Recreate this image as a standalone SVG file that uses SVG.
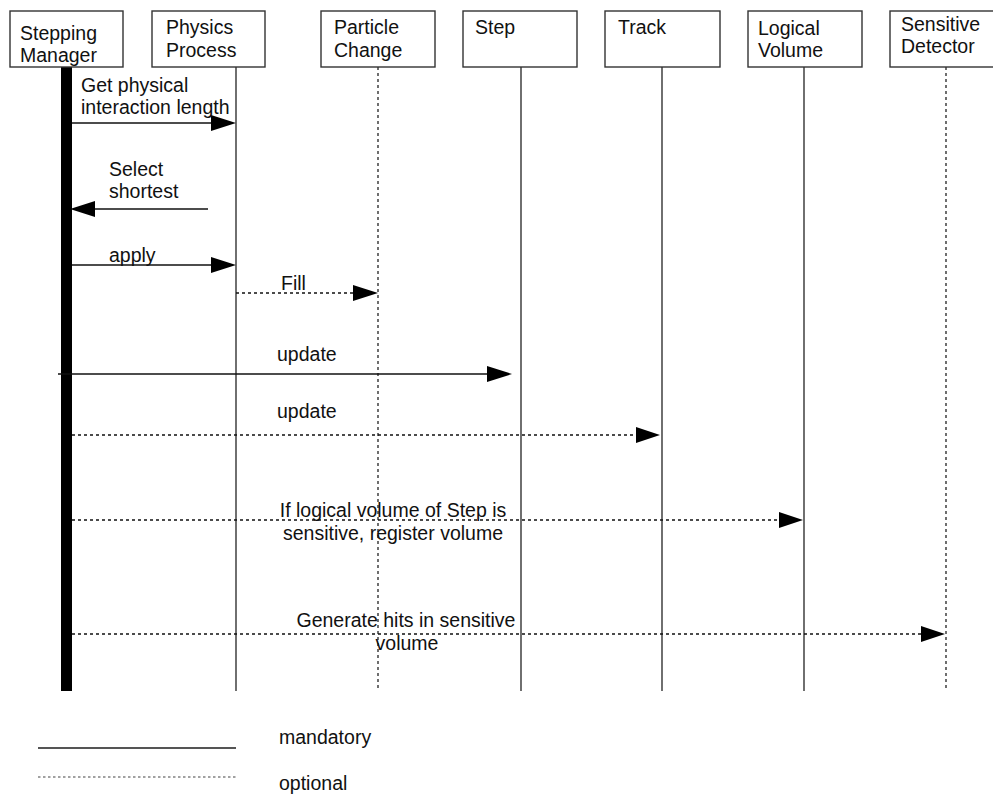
<svg xmlns="http://www.w3.org/2000/svg" width="993" height="794" viewBox="0 0 993 794">
<style>
text{font-family:"Liberation Sans",Arial,sans-serif;font-size:19.5px;fill:#111}
.box{fill:#fff;stroke:#333;stroke-width:1.4}
.life{stroke:#222;stroke-width:1.3;fill:none}
.opt{stroke:#222;stroke-width:1.3;stroke-dasharray:3 3;fill:none}
.msg{stroke:#111;stroke-width:1.4;fill:none}
.msgd{stroke:#111;stroke-width:1.3;stroke-dasharray:3 3;fill:none}
.head{fill:#000}
</style>
<rect width="993" height="794" fill="#fff"/>
<g id="lifelines">
<rect x="61" y="67" width="11" height="624" fill="#000"/>
<line class="life" x1="236" y1="67" x2="236" y2="691"/>
<line class="opt" x1="378" y1="67" x2="378" y2="691"/>
<line class="life" x1="521" y1="67" x2="521" y2="691"/>
<line class="life" x1="662" y1="67" x2="662" y2="691"/>
<line class="life" x1="804" y1="67" x2="804" y2="691"/>
<line class="opt" x1="946" y1="67" x2="946" y2="691"/>
</g>
<g id="stepping-manager"><rect class="box" x="10" y="11" width="113" height="56"/><text x="20" y="40">Stepping</text><text x="20" y="62">Manager</text></g>
<g id="physics-process"><rect class="box" x="152" y="11" width="113" height="56"/><text x="166" y="34">Physics</text><text x="166" y="57">Process</text></g>
<g id="particle-change"><rect class="box" x="321" y="11" width="114" height="56"/><text x="334" y="34">Particle</text><text x="334" y="57">Change</text></g>
<g id="step"><rect class="box" x="463" y="11" width="114" height="56"/><text x="475" y="34">Step</text></g>
<g id="track"><rect class="box" x="605" y="11" width="115" height="56"/><text x="618" y="34">Track</text></g>
<g id="logical-volume"><rect class="box" x="748" y="11" width="114" height="56"/><text x="758" y="35">Logical</text><text x="758" y="57">Volume</text></g>
<g id="sensitive-detector"><rect class="box" x="890" y="11" width="114" height="56"/><text x="901" y="31">Sensitive</text><text x="901" y="53">Detector</text></g>
<g id="connectors">
<line class="msg" x1="72" y1="123" x2="214" y2="123"/><polygon class="head" points="211,115 236,123 211,131"/>
<line class="msg" x1="208" y1="209" x2="92" y2="209"/><polygon class="head" points="95,201 70,209 95,217"/>
<line class="msg" x1="72" y1="265" x2="214" y2="265"/><polygon class="head" points="211,257 236,265 211,273"/>
<line class="msgd" x1="236" y1="293" x2="356" y2="293"/><polygon class="head" points="353,285 378,293 353,301"/>
<line class="msg" x1="58" y1="374" x2="490" y2="374"/><polygon class="head" points="487,366 512,374 487,382"/>
<line class="msgd" x1="72" y1="435" x2="638" y2="435"/><polygon class="head" points="636,427 660,435 636,443"/>
<line class="msgd" x1="72" y1="520" x2="782" y2="520"/><polygon class="head" points="779,512 803,520 779,528"/>
<line class="msgd" x1="72" y1="634" x2="924" y2="634"/><polygon class="head" points="921,626 945,634 921,642"/>
</g>
<g id="labels">
<text x="81" y="92">Get physical</text><text x="81" y="114">interaction length</text>
<text x="109" y="176">Select</text><text x="109" y="198">shortest</text>
<text x="109" y="262">apply</text>
<text x="281" y="290">Fill</text>
<text x="277" y="361">update</text>
<text x="277" y="418">update</text>
<text x="393" y="517" text-anchor="middle">If logical volume of Step is</text>
<text x="393" y="540" text-anchor="middle">sensitive, register volume</text>
<text x="406" y="627" text-anchor="middle">Generate hits in sensitive</text>
<text x="407" y="650" text-anchor="middle">volume</text>
</g>
<g id="legend">
<line x1="38" y1="748" x2="236" y2="748" stroke="#555" stroke-width="2"/>
<line x1="38" y1="777" x2="236" y2="777" stroke="#444" stroke-width="1.2" stroke-dasharray="2.5 2.5"/>
<text x="279" y="744">mandatory</text>
<text x="279" y="790">optional</text>
</g>
</svg>
